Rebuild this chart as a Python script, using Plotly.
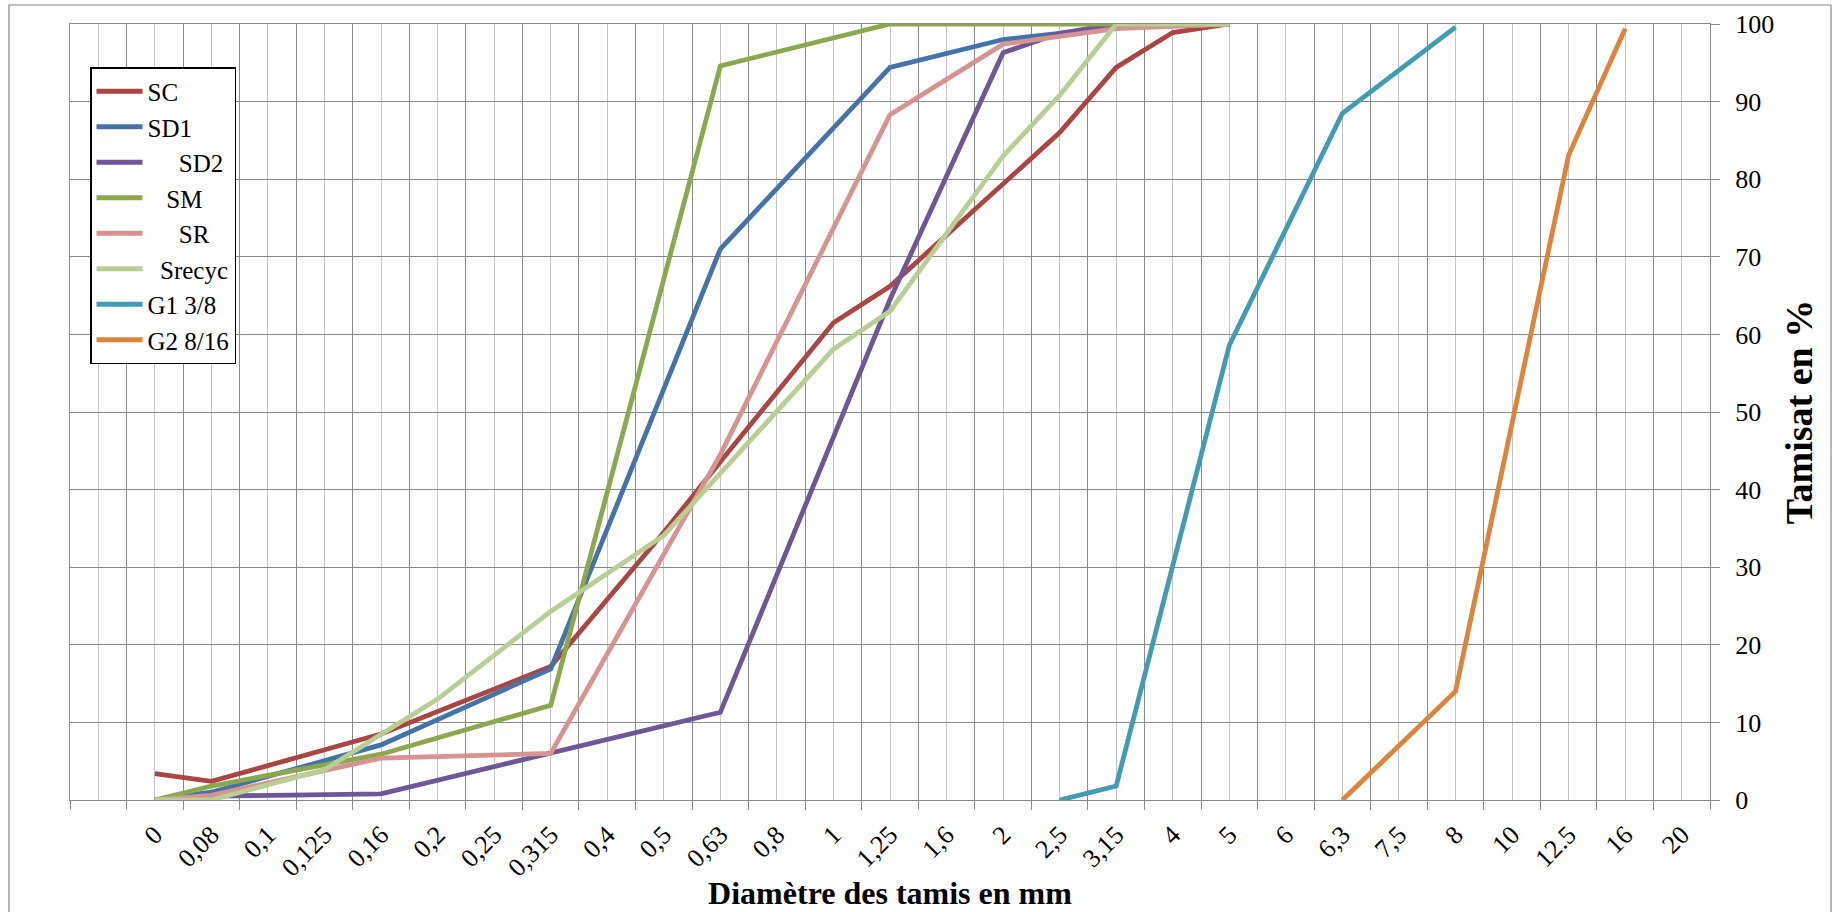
import plotly.graph_objects as go

# ---------------- data ----------------
categories = ["", "0", "0,08", "0,1", "0,125", "0,16", "0,2", "0,25", "0,315", "0,4",
              "0,5", "0,63", "0,8", "1", "1,25", "1,6", "2", "2,5", "3,15", "4",
              "5", "6", "6,3", "7,5", "8", "10", "12.5", "16", "20"]

sc_sieves = ["0", "0,08", "0,16", "0,315", "0,5", "0,63", "1", "1,25", "2,5", "3,15", "4", "5"]
sc_values = [3.4, 2.4, 8.5, 17.2, 34.5, 43.6, 61.5, 66.2, 86.0, 94.4, 98.9, 100]

sd1_sieves = ["0", "0,08", "0,16", "0,315", "0,63", "1,25", "2", "3,15", "5"]
sd1_values = [0, 1.0, 7.1, 16.9, 71.0, 94.4, 98.0, 99.6, 100]

sd2_sieves = ["0", "0,08", "0,16", "0,315", "0,63", "1,25", "2", "2,5", "3,15", "5"]
sd2_values = [0, 0.5, 0.8, 6.1, 11.3, 64.5, 96.3, 98.8, 100, 100]

sm_sieves = ["0", "0,08", "0,16", "0,315", "0,63", "1,25", "2", "3,15", "5"]
sm_values = [0, 1.8, 5.9, 12.2, 94.6, 100, 100, 100, 100]

sr_sieves = ["0", "0,08", "0,16", "0,315", "0,63", "1,25", "2", "3,15", "5"]
sr_values = [0, 0.6, 5.4, 6.0, 44.5, 88.3, 97.4, 99.4, 100]

srecyc_sieves = ["0", "0,08", "0,125", "0,2", "0,315", "0,5", "1", "1,25", "2", "2,5", "3,15", "5"]
srecyc_values = [0, 0, 3.9, 13.0, 24.3, 34.1, 58.1, 63.0, 83.0, 90.8, 100, 100]

g1_sieves = ["2,5", "3,15", "5", "6,3", "8"]
g1_values = [0, 1.8, 58.6, 88.5, 99.6]

g2_sieves = ["6,3", "8", "12.5", "16"]
g2_values = [0, 14.0, 83.1, 99.4]

NB = "\u00a0"
series_names = ["SC", "SD1", NB * 5 + "SD2", NB * 3 + "SM", NB * 5 + "SR",
                NB * 2 + "Srecyc", "G1 3/8", "G2 8/16"]
series_sieves = [sc_sieves, sd1_sieves, sd2_sieves, sm_sieves, sr_sieves,
                 srecyc_sieves, g1_sieves, g2_sieves]
series_values = [sc_values, sd1_values, sd2_values, sm_values, sr_values,
                 srecyc_values, g1_values, g2_values]
series_colors = ["#AA4541", "#4473AA", "#6F5697", "#8BA84E", "#D69391",
                 "#B8CE93", "#429BB4", "#DD833A"]

# ---------------- figure ----------------
FONT = "Liberation Serif, Times New Roman, serif"
DARK = "#898989"
LIGHT = "#c4c4c4"

W, H = 1836, 912
L, R, T, B = 70, 126, 24, 112
pw, ph = W - L - R, H - T - B

fig = go.Figure()
for name, sieves, vals, col in zip(series_names, series_sieves, series_values, series_colors):
    fig.add_trace(go.Scatter(
        x=[categories.index(s) for s in sieves], y=vals,
        mode="lines", name=name,
        line=dict(color=col, width=4.8),
        hoverinfo="skip",
    ))

n = len(categories)
fig.update_xaxes(
    range=[-0.5, n - 0.5],
    tickmode="array", tickvals=list(range(n)), ticktext=categories,
    tickangle=-45, tickfont=dict(family=FONT, size=26, color="black"),
    ticks="", ticklabelstandoff=8,
    showgrid=True, gridcolor=LIGHT, gridwidth=1.3,
    zeroline=False, showline=True, linecolor=DARK, linewidth=1.3, mirror=True,
    minor=dict(tickmode="array", tickvals=[i - 0.5 for i in range(n + 1)],
               showgrid=True, gridcolor=DARK, gridwidth=1.3,
               ticks="outside", ticklen=9, tickcolor=DARK, tickwidth=1.3),
    title=dict(text="<b>Diamètre des tamis en mm</b>",
               font=dict(family=FONT, size=32, color="black"), standoff=0),
)
fig.update_yaxes(
    side="right", range=[0, 100], tickmode="linear", tick0=0, dtick=10,
    tickfont=dict(family=FONT, size=26, color="black"),
    ticks="outside", ticklen=9, tickcolor=DARK, tickwidth=1.3, ticklabelstandoff=10,
    showgrid=True, gridcolor=DARK, gridwidth=1.3,
    zeroline=False, showline=True, linecolor=DARK, linewidth=1.3, mirror=True,
    title=dict(text="<b>Tamisat en %</b>",
               font=dict(family=FONT, size=38, color="black"), standoff=12),
)

fig.update_layout(
    width=W, height=H,
    margin=dict(l=L, r=R, t=T, b=B, autoexpand=False),
    paper_bgcolor="white", plot_bgcolor="white",
    font=dict(family=FONT, color="black"),
    showlegend=True,
    legend=dict(x=(90 - L) / pw, y=(H - B - 67) / ph, xanchor="left", yanchor="top",
                bgcolor="white", bordercolor="black", borderwidth=1.5,
                font=dict(family=FONT, size=25, color="black"),
                tracegroupgap=0, itemwidth=46),
    shapes=[dict(type="rect", xref="paper", yref="paper",
                 x0=(9 - L) / pw, x1=(1831 - L) / pw,
                 y0=-(930 - (H - B)) / ph, y1=((H - B) - 5) / ph,
                 line=dict(color=DARK, width=1.2), fillcolor="rgba(0,0,0,0)", layer="below")],
)

fig.write_html("out.html")
